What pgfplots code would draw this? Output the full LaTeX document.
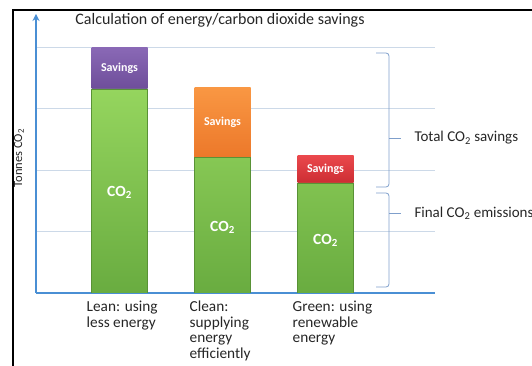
\documentclass[border=0pt]{standalone}
\usepackage{pgfplots}
\pgfplotsset{compat=1.18}
\usepackage{fontspec}
\setmainfont{Carlito}
\usetikzlibrary{arrows.meta}

\definecolor{axisblue}{HTML}{4A8FD4}
\definecolor{gridblue}{HTML}{CCD9E8}
\definecolor{co2top}{HTML}{95D55E}
\definecolor{co2bot}{HTML}{69AC40}
\definecolor{purptop}{HTML}{8A69B6}
\definecolor{purpbot}{HTML}{6E4E9A}
\definecolor{orgtop}{HTML}{F99743}
\definecolor{orgbot}{HTML}{EC782A}
\definecolor{redtop}{HTML}{EA484C}
\definecolor{redbot}{HTML}{CC2D33}
\definecolor{bracecol}{HTML}{7F9FCB}
\definecolor{txt}{HTML}{262626}

\begin{document}
\begin{tikzpicture}
\useasboundingbox (0pt,0pt) rectangle (532pt,366pt);
% outer frame
\draw[line width=2pt, black] (13pt,-5pt) -- (13pt,356pt) -- (545pt,356pt);

\begin{axis}[
  at={(36pt,73pt)}, anchor=south west, scale only axis,
  width=399pt, height=279pt,
  xmin=-0.8107, xmax=3.0631, ymin=0, ymax=4.537,
  ybar stacked, bar width=56pt,
  axis x line*=bottom, axis y line=left,
  axis line style={axisblue, line width=1.6pt},
  y axis line style={-{Stealth[length=7pt,width=7pt]}},
  ytick={1,2,3,4}, yticklabels={},
  ymajorgrids, grid style={gridblue, line width=0.6pt},
  ytick style={draw=none}, xtick style={draw=none},
  xtick={0,1,2},
  xticklabels={Lean: using\\less energy, Clean:\\supplying\\energy\\efficiently, Green: using\\renewable\\energy},
  xticklabel style={align=left, anchor=north west, inner sep=0pt, xshift=-33pt, yshift=-8pt,
    font=\fontsize{15.3}{15.5}\selectfont, text=txt},
]
% emissions that remain
\addplot[draw=co2bot!85!black, line width=0.4pt, top color=co2top, bottom color=co2bot]
  coordinates {(0,3.32) (1,2.21) (2,1.79)};
% savings of each approach
\addplot[draw=none, top color=purptop, bottom color=purpbot]
  coordinates {(0,0.68) (1,0) (2,0)};
\addplot[draw=none, top color=orgtop, bottom color=orgbot]
  coordinates {(0,0) (1,1.13) (2,0)};
\addplot[draw=none, top color=redtop, bottom color=redbot]
  coordinates {(0,0) (1,0) (2,0.44)};

\coordinate (s0) at (axis cs:0,3.66);
\coordinate (s1) at (axis cs:1,2.775);
\coordinate (s2) at (axis cs:2,2.01);
\coordinate (c0) at (axis cs:0,1.63);
\coordinate (c1) at (axis cs:1,1.07);
\coordinate (c2) at (axis cs:2,0.86);
\end{axis}

% labels inside the bars
\foreach \p in {s0,s1,s2}
  \node[text=white, font=\bfseries\fontsize{12}{14}\selectfont] at (\p) {Savings};
\foreach \p in {c0,c1,c2}
  \node[text=white, font=\bfseries\fontsize{15.5}{17}\selectfont] at (\p) {CO\textsubscript{2}};

% title and axis name
\node[text=txt, font=\fontsize{16}{18}\selectfont] at (220pt,346pt) {Calculation of energy/carbon dioxide savings};
\node[text=txt, rotate=90, font=\fontsize{12.5}{14}\selectfont] at (19pt,208pt) {Tonnes CO\textsubscript{2}};

% braces
\begin{scope}[draw=bracecol, line width=0.8pt, rounded corners=3pt]
\draw (376pt,313pt) -- (389pt,313pt) -- (389pt,179pt) -- (376pt,179pt);
\draw (389pt,228pt) -- (401pt,228pt);
\draw (376pt,173pt) -- (389pt,173pt) -- (389pt,79pt) -- (376pt,79pt);
\draw (389pt,153pt) -- (401pt,153pt);
\end{scope}
\node[anchor=west, text=txt, font=\fontsize{15}{17}\selectfont] at (411pt,228pt) {Total CO\textsubscript{2} savings};
\node[anchor=west, text=txt, font=\fontsize{15}{17}\selectfont] at (411pt,153pt) {Final CO\textsubscript{2} emissions};
\end{tikzpicture}
\end{document}
